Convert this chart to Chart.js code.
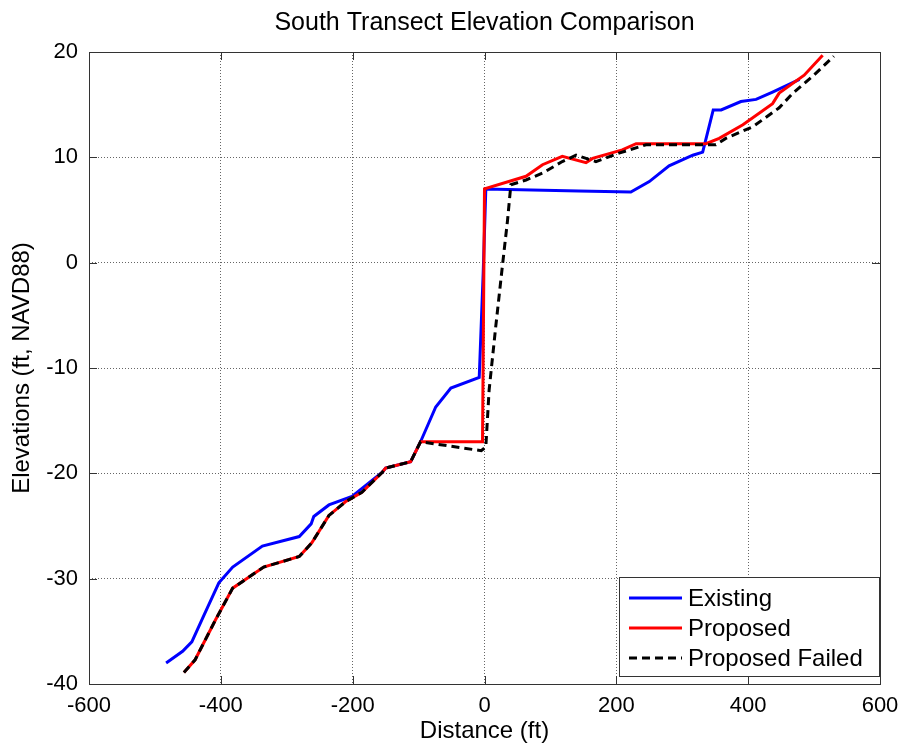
<!DOCTYPE html>
<html>
<head>
<meta charset="utf-8">
<script src="https://cdn.jsdelivr.net/npm/chart.js@4.4.1/dist/chart.umd.min.js"></script>
<style>
html,body{margin:0;padding:0;background:#fff;}
#wrap{width:911px;height:747px;}
</style>
</head>
<body>
<div id="wrap"><canvas id="c" width="911" height="747"></canvas></div>
<script>
const titleText = "South Transect Elevation Comparison";
const xLabel = "Distance (ft)";
const yLabel = "Elevations (ft, NAVD88)";
const seriesNames = ["Existing", "Proposed", "Proposed Failed"];

const existingX = [-483, -458, -444, -425, -403, -382, -337, -281, -263, -259, -236, -201, -155, -150, -112, -97, -74, -51, -8, -2, 2, 143, 222, 250, 280, 316, 331, 347, 359, 389, 412, 437, 478];
const existingY = [-38.0, -36.9, -36.0, -33.4, -30.4, -28.9, -26.9, -26.0, -24.8, -24.1, -23.0, -22.2, -19.9, -19.5, -18.9, -17.0, -13.7, -11.9, -10.9, -1.0, 7.0, 6.8, 6.7, 7.7, 9.2, 10.2, 10.5, 14.5, 14.5, 15.3, 15.5, 16.2, 17.4];

const proposedX = [-456, -439, -408, -382, -335, -281, -262, -236, -211, -186, -155, -150, -112, -97, -3, 0, 63, 88, 118, 154, 164, 209, 230, 336, 356, 392, 437, 447, 485, 513];
const proposedY = [-38.9, -37.7, -33.9, -30.9, -28.9, -27.9, -26.6, -24.0, -22.7, -21.8, -19.9, -19.5, -18.9, -17.0, -17.0, 7.0, 8.2, 9.3, 10.1, 9.5, 9.9, 10.7, 11.3, 11.3, 11.8, 13.1, 15.1, 16.1, 17.8, 19.7];

const failedX = [-456, -439, -408, -382, -335, -281, -262, -236, -211, -186, -155, -150, -112, -97, -5, 2, 7, 17, 27, 35, 40, 63, 88, 118, 139, 169, 204, 245, 351, 366, 407, 447, 468, 498, 530];
const failedY = [-38.9, -37.7, -33.9, -30.9, -28.9, -27.9, -26.6, -24.0, -22.7, -21.8, -19.9, -19.5, -18.9, -17.0, -17.85, -17.5, -12.1, -6.1, -0.4, 4.05, 7.4, 7.85, 8.5, 9.6, 10.2, 9.6, 10.4, 11.2, 11.2, 11.8, 12.9, 14.7, 16.1, 17.7, 19.6];

const xTicks = [-600, -400, -200, 0, 200, 400, 600];
const yTicks = [-40, -30, -20, -10, 0, 10, 20];

const FONT = '"Liberation Sans", Arial, Helvetica, sans-serif';
const toPts = (xs, ys) => xs.map((x, i) => ({x: x, y: ys[i]}));

const datasets = [
  {label: seriesNames[0], data: toPts(existingX, existingY), borderColor: '#0000ff', borderWidth: 3, order: 2},
  {label: seriesNames[1], data: toPts(proposedX, proposedY), borderColor: '#ff0000', borderWidth: 3, order: 1},
  {label: seriesNames[2], data: toPts(failedX, failedY), borderColor: '#000000', borderWidth: 3, borderDash: [8, 5], order: 0}
];
datasets.forEach(d => { d.pointRadius = 0; d.tension = 0; d.fill = false; d.showLine = true; });

const boxPlugin = {
  id: 'matlabBox',
  afterDraw(chart) {
    const ctx = chart.ctx, a = chart.chartArea;
    const xs = chart.scales.x, ys = chart.scales.y;
    ctx.save();
    // title centred over the plot area
    ctx.font = '25px ' + FONT;
    ctx.fillStyle = '#000';
    ctx.textAlign = 'center';
    ctx.textBaseline = 'middle';
    ctx.fillText(titleText, (a.left + a.right) / 2, 23);

    ctx.strokeStyle = '#333';
    ctx.lineWidth = 1;
    const tl = 8;
    ctx.beginPath();
    xTicks.forEach(v => {
      const px = Math.round(xs.getPixelForValue(v)) + 0.5;
      ctx.moveTo(px, a.bottom); ctx.lineTo(px, a.bottom - tl);
      ctx.moveTo(px, a.top); ctx.lineTo(px, a.top + tl);
    });
    yTicks.forEach(v => {
      const py = Math.round(ys.getPixelForValue(v)) + 0.5;
      ctx.moveTo(a.left, py); ctx.lineTo(a.left + tl, py);
      ctx.moveTo(a.right, py); ctx.lineTo(a.right - tl, py);
    });
    ctx.stroke();
    ctx.strokeRect(Math.round(a.left) + 0.5, Math.round(a.top) + 0.5, Math.round(a.right - a.left), Math.round(a.bottom - a.top));

    // legend box
    const lx = 619.5, ly = 577.5, lw = 260, lh = 99;
    ctx.fillStyle = '#fff';
    ctx.fillRect(lx, ly, lw, lh);
    ctx.strokeStyle = '#333';
    ctx.strokeRect(lx, ly, lw, lh);
    ctx.font = '24px ' + FONT;
    ctx.textBaseline = 'middle';
    ctx.textAlign = 'left';
    chart.data.datasets.forEach((d, i) => {
      const cy = 598 + i * 30;
      ctx.beginPath();
      ctx.strokeStyle = d.borderColor;
      ctx.lineWidth = 3;
      ctx.setLineDash(d.borderDash || []);
      ctx.moveTo(629, cy); ctx.lineTo(682, cy);
      ctx.stroke();
      ctx.setLineDash([]);
      ctx.fillStyle = '#000';
      ctx.fillText(d.label, 688, cy + 1);
    });
    ctx.restore();
  }
};

new Chart(document.getElementById('c'), {
  type: 'line',
  data: {datasets: datasets},
  options: {
    responsive: false,
    animation: false,
    layout: {padding: {left: 0, right: 31, top: 52, bottom: 0}},
    plugins: {
      legend: {display: false},
      tooltip: {enabled: false},
      title: {display: false}
    },
    scales: {
      x: {
        type: 'linear', min: -600, max: 600,
        afterFit: s => { s.height = 63; },
        afterBuildTicks: s => { s.ticks = xTicks.map(v => ({value: v})); },
        ticks: {color: '#000', font: {family: FONT, size: 22}, padding: 9, maxRotation: 0, autoSkip: false},
        grid: {color: '#666', lineWidth: 1, drawTicks: false},
        border: {display: false, dash: [1, 2]},
        title: {display: true, text: xLabel, color: '#000', font: {family: FONT, size: 24}, padding: {top: 0, bottom: 1}}
      },
      y: {
        type: 'linear', min: -40, max: 20,
        afterFit: s => { s.width = 89; },
        afterBuildTicks: s => { s.ticks = yTicks.map(v => ({value: v})); },
        ticks: {color: '#000', font: {family: FONT, size: 22}, padding: 11, autoSkip: false},
        grid: {color: '#666', lineWidth: 1, drawTicks: false},
        border: {display: false, dash: [1, 2]},
        title: {display: true, text: yLabel, color: '#000', font: {family: FONT, size: 24}, padding: {top: 8, bottom: 0}}
      }
    }
  },
  plugins: [boxPlugin]
});
</script>
</body>
</html>
